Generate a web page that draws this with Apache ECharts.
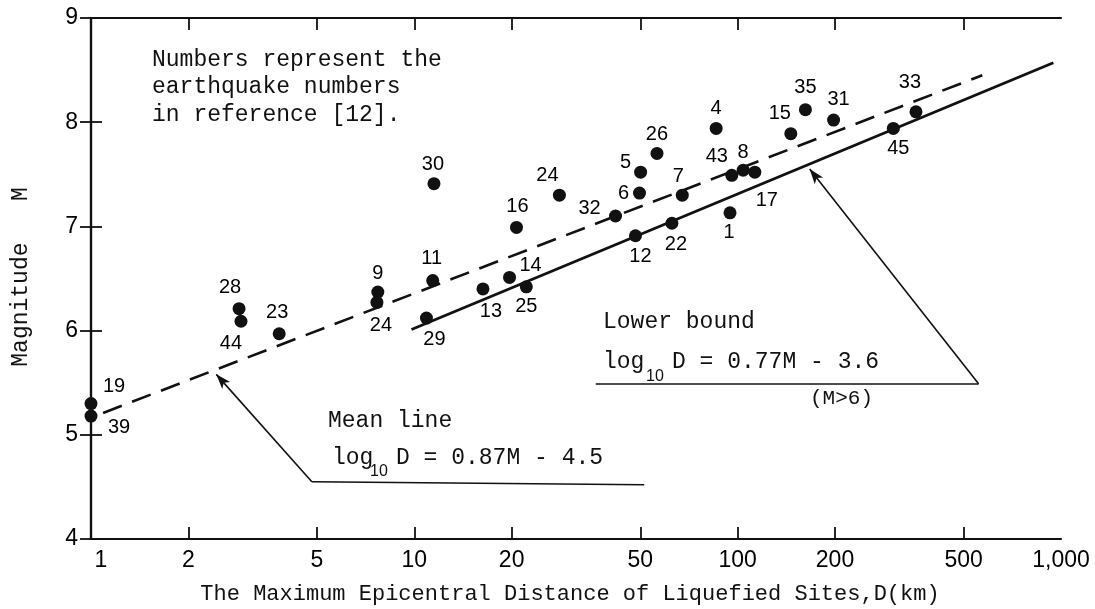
<!DOCTYPE html>
<html><head><meta charset="utf-8">
<script src="https://cdn.jsdelivr.net/npm/echarts@6/dist/echarts.min.js"></script>
<style>html,body{margin:0;padding:0;background:#fff}#c{width:1095px;height:609px}</style>
</head><body><div id="c"></div>
<script>
// ---- data ----
const quakeIds   = ['19','39','28','44','23','9','24','11','30','29','13','14','25','16','24','32','12','6','5','26','22','7','4','1','43','8','17','15','35','31','45','33'];
const distanceKm = [1, 1, 2.87, 2.91, 3.82, 7.71, 7.66, 11.4, 11.5, 10.9, 16.3, 19.7, 22.2, 20.7, 28.1, 41.9, 48.3, 49.7, 50.1, 56.3, 62.6, 67.4, 85.8, 94.7, 95.9, 104, 113, 146, 162, 198, 303, 356];
const magnitude  = [5.30, 5.18, 6.21, 6.09, 5.97, 6.37, 6.27, 6.48, 7.41, 6.12, 6.40, 6.51, 6.42, 6.99, 7.30, 7.10, 6.91, 7.32, 7.52, 7.70, 7.03, 7.30, 7.94, 7.13, 7.49, 7.54, 7.52, 7.89, 8.12, 8.02, 7.94, 8.10];

const xTickValues = [1, 2, 5, 10, 20, 50, 100, 200, 500, 1000];
const xMinorTicks = [2, 5, 10, 20, 50, 100, 200, 500];
const yTickValues = [4, 5, 6, 7, 8, 9];

const meanLineD  = [1.09, 571];
const meanLineM  = [5.21, 8.45];
const lowerLineD = [9.8, 947];
const lowerLineM = [6.01, 8.57];

const meanPointerD  = [51.4, 4.82, 2.44];
const meanPointerM  = [4.52, 4.55, 5.58];
const lowerPointerD = [36.4, 556, 167];
const lowerPointerM = [5.49, 5.49, 7.55];

// ---- label placement (style, not data): [dx, dy] from the dot centre ----
const labelOffsets = [[23,-17],[28,11],[-9,-21],[-10,22],[-2,-21],[0,-19],[4,23],[-1,-22],[-1,-19],[8,21],[8,23],[21,-12],[0,20],[1,-21],[-12,-20],[-26,-7],[5,21],[-16,0],[-15,-10],[0,-19],[4,21],[-4,-19],[0,-20],[-1,20],[-15,-19],[0,-18],[12,28],[-11,-20],[0,-22],[5,-21],[5,20],[-6,-29]];

const lg = v => Math.log10(v);
const INK = '#111';
const MONO = '"Liberation Mono", "DejaVu Sans Mono", monospace';
const SANS = '"Liberation Sans", Arial, sans-serif';

const chart = echarts.init(document.getElementById('c'), null, {renderer: 'canvas'});

const scatterData = quakeIds.map((id, i) => ({
  name: id,
  value: [lg(distanceKm[i]), magnitude[i]],
  label: {offset: labelOffsets[i]}
}));

function pointerSegments(D, M) {
  return [
    [{coord: [lg(D[0]), M[0]]}, {coord: [lg(D[1]), M[1]]}],
    [{coord: [lg(D[1]), M[1]]}, {coord: [lg(D[2]), M[2]], symbol: 'arrow', symbolSize: [8, 15]}]
  ];
}

const fmtD = v => {
  const s = Math.round(Math.pow(10, v)).toLocaleString('en-US');
  return v < 1e-9 ? '{first|' + s + '}' : s;
};

const axisLine = {show: true, lineStyle: {color: INK, width: 2.2}};
const tickStyle = {color: INK, width: 1.8};

const option = {
  backgroundColor: '#fff',
  animation: false,
  grid: {left: 91, right: 34, top: 18, bottom: 70, containLabel: false},
  xAxis: [{
    type: 'value', min: 0, max: 3, position: 'bottom',
    axisLine: axisLine,
    splitLine: {show: false},
    axisTick: {show: true, inside: true, length: 12, lineStyle: tickStyle, customValues: xMinorTicks.map(lg)},
    axisLabel: {show: true, customValues: xTickValues.map(lg), formatter: fmtD, color: '#000', fontSize: 23, fontFamily: SANS, margin: 10,
      rich: {first: {color: '#000', fontSize: 23, fontFamily: SANS, padding: [0, 0, 0, 20]}}}
  }, {
    type: 'value', min: 0, max: 3, position: 'top',
    axisLine: axisLine,
    splitLine: {show: false},
    axisTick: {show: true, inside: true, length: 12, lineStyle: tickStyle, customValues: xMinorTicks.map(lg)},
    axisLabel: {show: false}
  }],
  yAxis: [{
    type: 'value', min: 4, max: 9, interval: 1, position: 'left',
    axisLine: axisLine,
    splitLine: {show: false},
    axisTick: {show: true, inside: true, length: 11, lineStyle: tickStyle},
    axisLabel: {show: true, color: '#000', fontSize: 23, fontFamily: SANS, margin: 13}
  }, {
    type: 'value', min: 4, max: 9, interval: 1, position: 'right',
    axisLine: axisLine,
    splitLine: {show: false},
    axisTick: {show: true, inside: true, length: 11, lineStyle: tickStyle},
    axisLabel: {show: false}
  }],
  series: [{
    name: 'Mean line', type: 'line', xAxisIndex: 0, yAxisIndex: 0,
    data: meanLineD.map((d, i) => [lg(d), meanLineM[i]]),
    showSymbol: false, symbol: 'none', silent: true,
    lineStyle: {color: INK, width: 2.6, type: [20, 11]}
  }, {
    name: 'Lower bound', type: 'line', xAxisIndex: 0, yAxisIndex: 0,
    data: lowerLineD.map((d, i) => [lg(d), lowerLineM[i]]),
    showSymbol: false, symbol: 'none', silent: true,
    lineStyle: {color: INK, width: 2.8},
    markLine: {
      silent: true, animation: false,
      symbol: ['none', 'none'],
      label: {show: false},
      lineStyle: {color: INK, width: 1.6, type: 'solid'},
      emphasis: {disabled: true},
      data: pointerSegments(meanPointerD, meanPointerM).concat(pointerSegments(lowerPointerD, lowerPointerM))
    }
  }, {
    name: 'Earthquakes', type: 'scatter', xAxisIndex: 0, yAxisIndex: 0,
    data: scatterData, clip: false, silent: true,
    symbol: 'circle', symbolSize: 13,
    itemStyle: {color: INK, opacity: 1},
    label: {show: true, position: 'inside', formatter: '{b}', color: '#000', opacity: 1, fontSize: 20, fontFamily: SANS},
    z: 5
  }],
  graphic: [
    {type: 'text', x: 152, y: 46, style: {text: 'Numbers represent the\nearthquake numbers\nin reference [12].', fill: INK, fontSize: 23, fontFamily: MONO, lineHeight: 27.5, verticalAlign: 'top'}},
    {type: 'text', x: 328, y: 421, style: {text: 'Mean line', fill: INK, fontSize: 23, fontFamily: MONO, verticalAlign: 'middle'}},
    {type: 'text', x: 332, y: 458, style: {text: 'log', fill: INK, fontSize: 23, fontFamily: MONO, verticalAlign: 'middle'}},
    {type: 'text', x: 370, y: 472, style: {text: '10', fill: INK, fontSize: 16, fontFamily: SANS, verticalAlign: 'middle'}},
    {type: 'text', x: 396, y: 458, style: {text: 'D = 0.87M - 4.5', fill: INK, fontSize: 23, fontFamily: MONO, verticalAlign: 'middle'}},
    {type: 'text', x: 603, y: 322, style: {text: 'Lower bound', fill: INK, fontSize: 23, fontFamily: MONO, verticalAlign: 'middle'}},
    {type: 'text', x: 603, y: 362, style: {text: 'log', fill: INK, fontSize: 23, fontFamily: MONO, verticalAlign: 'middle'}},
    {type: 'text', x: 646, y: 377, style: {text: '10', fill: INK, fontSize: 16, fontFamily: SANS, verticalAlign: 'middle'}},
    {type: 'text', x: 672, y: 362, style: {text: 'D = 0.77M - 3.6', fill: INK, fontSize: 23, fontFamily: MONO, verticalAlign: 'middle'}},
    {type: 'text', x: 810, y: 398, style: {text: '(M>6)', fill: INK, fontSize: 21, fontFamily: MONO, verticalAlign: 'middle'}},
    {type: 'text', x: 21, y: 277, rotation: Math.PI / 2, style: {text: 'Magnitude   M', fill: INK, fontSize: 23, fontFamily: MONO, align: 'center', verticalAlign: 'middle'}},
    {type: 'text', x: 570, y: 594, style: {text: 'The Maximum Epicentral Distance of Liquefied Sites,D(km)', fill: INK, fontSize: 22, fontFamily: MONO, align: 'center', verticalAlign: 'middle'}}
  ]
};
chart.setOption(option);
</script>
</body></html>
